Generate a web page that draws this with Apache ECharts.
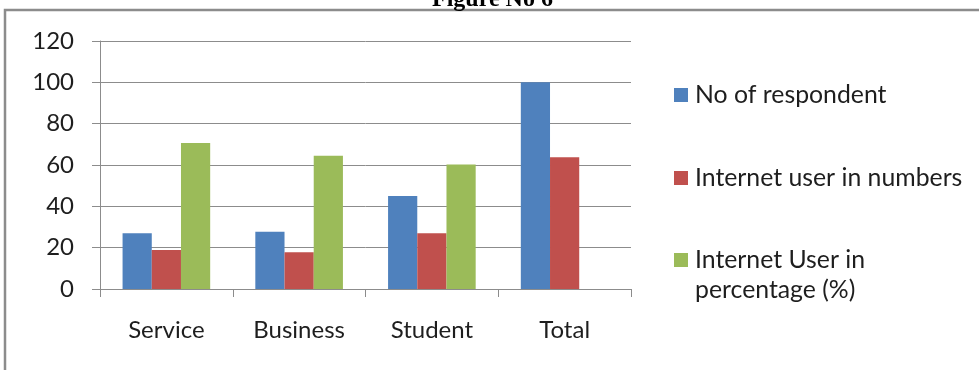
<!DOCTYPE html>
<html>
<head>
<meta charset="utf-8">
<script src="https://cdn.jsdelivr.net/npm/echarts@6/dist/echarts.min.js"></script>
<style>
html,body{margin:0;padding:0;background:#fff;}
#chart{width:979px;height:370px;}
</style>
</head>
<body>
<div id="chart"></div>
<script>
var categories = ['Service', 'Business', 'Student', 'Total'];
var respondents = [27, 27.7, 45, 100];
var usersNumber = [18.9, 17.8, 27, 63.7];
var usersPercent = [70.7, 64.5, 60.2, null];
var seriesNames = ['No of respondent', 'Internet user in numbers', 'Internet User in percentage (%)'];
var yTicks = { min: 0, max: 120, interval: 20 };
var titleText = 'Figure No 6';

var FONT = 'Lato';
var TEXT_COLOR = '#1e1e1e';
var GRID_COLOR = '#8c8c8c';

var chart = echarts.init(document.getElementById('chart'), null, { renderer: 'canvas' });

function legendFor(name, top) {
  return {
    orient: 'vertical',
    left: 674,
    top: top,
    padding: 0,
    itemWidth: 14,
    itemHeight: 14,
    itemGap: 0,
    icon: 'rect',
    selectedMode: false,
    data: [name],
    formatter: function (n) {
      return n === seriesNames[2] ? '\nInternet User in\npercentage (%)' : n;
    },
    textStyle: { fontFamily: FONT, fontSize: 24.8, color: TEXT_COLOR, lineHeight: 30, padding: [0, 0, 0, 2] }
  };
}

chart.setOption({
  animation: false,
  backgroundColor: '#fff',
  title: {
    text: titleText,
    left: 432,
    top: -12,
    padding: 0,
    textStyle: { fontFamily: 'Liberation Serif', fontWeight: 'bold', fontSize: 24, color: '#000' }
  },
  graphic: [{
    type: 'rect',
    shape: { x: 5, y: 10, width: 1000, height: 400 },
    style: { fill: 'none', stroke: '#8c8c8c', lineWidth: 2.5 },
    silent: true
  }],
  legend: [
    legendFor(seriesNames[0], 80),
    legendFor(seriesNames[1], 163),
    legendFor(seriesNames[2], 215)
  ],
  grid: { left: 100, right: 348, top: 41, bottom: 81, containLabel: false },
  xAxis: {
    type: 'category',
    data: categories,
    axisLine: { show: true, lineStyle: { color: GRID_COLOR, width: 1 } },
    axisTick: { show: true, length: 8, alignWithLabel: false, lineStyle: { color: GRID_COLOR } },
    axisLabel: { fontFamily: FONT, fontSize: 24, color: TEXT_COLOR, margin: 29 }
  },
  yAxis: {
    type: 'value',
    min: yTicks.min,
    max: yTicks.max,
    interval: yTicks.interval,
    axisLine: { show: true, lineStyle: { color: GRID_COLOR, width: 1 } },
    axisTick: { show: true, length: 8, inside: false, lineStyle: { color: GRID_COLOR } },
    splitLine: { show: true, lineStyle: { color: GRID_COLOR, width: 1 } },
    axisLabel: { fontFamily: FONT, fontSize: 24, color: TEXT_COLOR, margin: 26 }
  },
  series: [
    { name: seriesNames[0], type: 'bar', data: respondents, barGap: '0%', barCategoryGap: '34%', itemStyle: { color: '#4F81BD' } },
    { name: seriesNames[1], type: 'bar', data: usersNumber, barGap: '0%', barCategoryGap: '34%', itemStyle: { color: '#C0504D' } },
    { name: seriesNames[2], type: 'bar', data: usersPercent, barGap: '0%', barCategoryGap: '34%', itemStyle: { color: '#9BBB59' } }
  ]
});
</script>
</body>
</html>
